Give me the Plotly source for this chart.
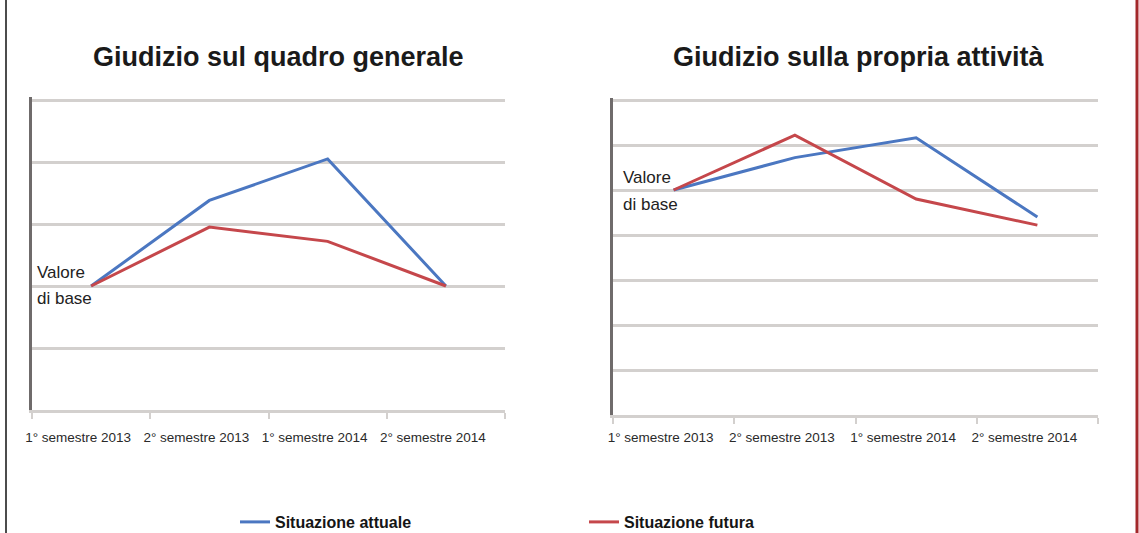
import plotly.graph_objects as go

# ---- data ----
categories = ["1° semestre 2013", "2° semestre 2013", "1° semestre 2014", "2° semestre 2014"]
quadro_attuale = [2.0, 3.38, 4.05, 2.0]
quadro_futura = [2.0, 2.95, 2.72, 2.0]
attivita_attuale = [5.0, 5.72, 6.16, 4.4]
attivita_futura = [5.0, 6.22, 4.8, 4.22]
series_names = ["Situazione attuale", "Situazione futura"]
titles = ["Giudizio sul quadro generale", "Giudizio sulla propria attività"]
base_label = ["Valore", "di base"]

W, H = 1139, 533
BLUE = "#4b77c1"
RED = "#c5474b"
GRID = "#d3d0ce"
AXIS = "#6f6b6b"
FONT = "Liberation Sans, Arial, sans-serif"


def px(x):
    return x / W


def py(y):
    return 1 - y / H


fig = go.Figure()

fig.add_trace(go.Scatter(x=categories, y=quadro_attuale, mode="lines", name=series_names[0],
                         line=dict(color=BLUE, width=3), xaxis="x", yaxis="y",
                         legendgroup="a", showlegend=True))
fig.add_trace(go.Scatter(x=categories, y=quadro_futura, mode="lines", name=series_names[1],
                         line=dict(color=RED, width=3), xaxis="x", yaxis="y",
                         legendgroup="f", showlegend=True))
fig.add_trace(go.Scatter(x=categories, y=attivita_attuale, mode="lines", name=series_names[0],
                         line=dict(color=BLUE, width=3), xaxis="x2", yaxis="y2",
                         legendgroup="a", showlegend=False))
fig.add_trace(go.Scatter(x=categories, y=attivita_futura, mode="lines", name=series_names[1],
                         line=dict(color=RED, width=3), xaxis="x2", yaxis="y2",
                         legendgroup="f", showlegend=False))

xcommon = dict(type="category", range=[-0.5, 3.5], showgrid=False, zeroline=False,
               showline=True, linecolor=GRID, linewidth=3,
               ticks="outside", tickson="boundaries", ticklen=6, tickwidth=2, tickcolor=GRID,
               tickfont=dict(family=FONT, size=13.5, color="#2a2a2a"),
               ticklabelshift=-13, fixedrange=True)
ycommon = dict(showgrid=True, gridcolor=GRID, gridwidth=3, zeroline=False,
               showline=True, linecolor=AXIS, linewidth=3, ticks="",
               showticklabels=False, dtick=1, tick0=0, fixedrange=True)

fig.update_layout(
    width=W, height=H,
    margin=dict(l=0, r=0, t=0, b=0, autoexpand=False),
    paper_bgcolor="white", plot_bgcolor="white",
    xaxis=dict(xcommon, domain=[px(32), px(505)], anchor="y", ticklabelstandoff=13),
    yaxis=dict(ycommon, domain=[py(410), py(100 - 0.05 * 62)], range=[0, 5.05], anchor="x"),
    xaxis2=dict(xcommon, domain=[px(613), px(1098)], anchor="y2", ticklabelstandoff=8),
    yaxis2=dict(ycommon, domain=[py(415), py(100 - 0.05 * 45)], range=[0, 7.05], anchor="x2"),
    showlegend=True,
    legend=dict(orientation="h", xref="container", yref="container",
                x=px(235), y=py(522), xanchor="left", yanchor="middle",
                entrywidth=304, entrywidthmode="pixels",
                font=dict(family=FONT, size=16, color="#151515", weight="bold"),
                bgcolor="rgba(0,0,0,0)", borderwidth=0),
)

annotations = [
    dict(text=titles[0], x=px(278), y=py(57), xref="paper", yref="paper",
         xanchor="center", yanchor="middle", showarrow=False,
         font=dict(family=FONT, size=27, color="#1a1a1a", weight="bold")),
    dict(text=titles[1], x=px(859), y=py(57), xref="paper", yref="paper",
         xanchor="center", yanchor="middle", showarrow=False,
         font=dict(family=FONT, size=27, color="#1a1a1a", weight="bold")),
]
for (lx, ly1, ly2) in [(35, 272, 298), (621, 177, 204)]:
    for txt, yy in zip(base_label, [ly1, ly2]):
        annotations.append(dict(text=txt, x=px(lx), y=py(yy), xref="paper", yref="paper",
                                xanchor="left", yanchor="middle", showarrow=False,
                                font=dict(family=FONT, size=17, color="#222222")))
fig.update_layout(annotations=annotations)

fig.update_layout(shapes=[
    dict(type="line", xref="paper", yref="paper", x0=px(6), x1=px(6), y0=0, y1=1,
         line=dict(color="#111111", width=1.5)),
    dict(type="line", xref="paper", yref="paper", x0=px(1137), x1=px(1137), y0=0, y1=1,
         line=dict(color="#a3282a", width=3)),
])

fig.write_html("out.html", config={"displayModeBar": False},
               post_script="document.body.style.margin='0px';document.body.style.overflow='hidden';")
